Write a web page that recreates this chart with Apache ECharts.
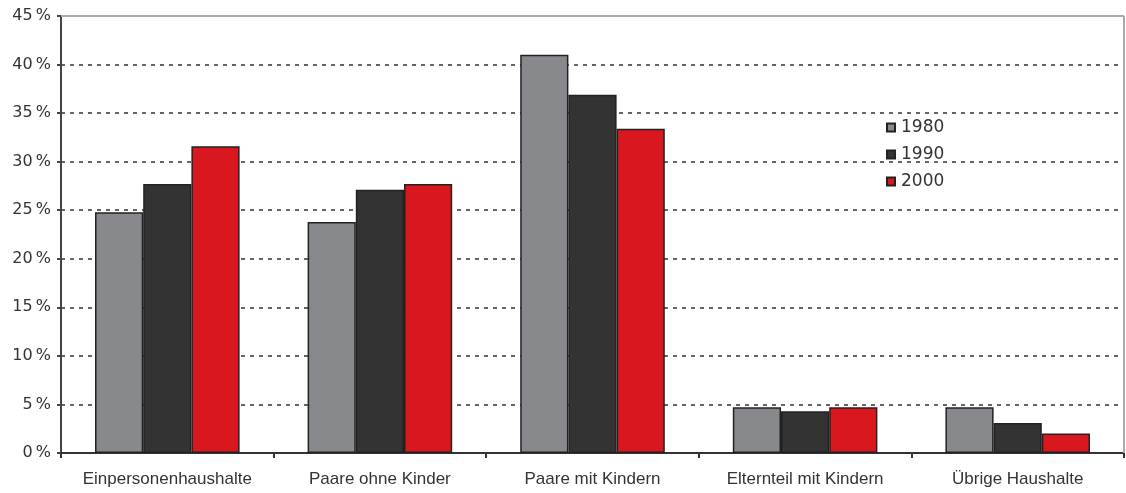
<!DOCTYPE html>
<html><head><meta charset="utf-8">
<script src="https://cdn.jsdelivr.net/npm/echarts@6/dist/echarts.min.js"></script>
<style>html,body{margin:0;padding:0;background:#fff}#c{width:1126px;height:493px}</style>
</head><body><div id="c"></div>
<script>
const categories = ['Einpersonenhaushalte','Paare ohne Kinder','Paare mit Kindern','Elternteil mit Kindern','Übrige Haushalte'];
const years = ['1980','1990','2000'];
const v1980 = [24.8, 23.8, 41.0, 4.7, 4.7];
const v1990 = [27.7, 27.1, 36.9, 4.3, 3.1];
const v2000 = [31.6, 27.7, 33.4, 4.7, 2.0];
const colors = ['#88898d','#333333','#d9171e'];
const values = [v1980, v1990, v2000];

const chart = echarts.init(document.getElementById('c'));
chart.setOption({
  animation:false,
  textStyle:{fontFamily:'Liberation Sans, Arial, sans-serif'},
  grid:{left:61,right:2,top:16,bottom:40},
  legend:{
    orient:'vertical', left:881, top:114, itemWidth:8, itemHeight:8, itemGap:10,
    icon:'rect',
    textStyle:{fontSize:17,color:'#333',fontFamily:'DejaVu Sans',padding:[0,0,0,1]},
    data:years
  },
  xAxis:{
    type:'category', data:categories,
    axisLine:{lineStyle:{color:'#333',width:2}},
    axisTick:{show:true,length:5,lineStyle:{color:'#333',width:2}},
    axisLabel:{fontSize:17,color:'#333',margin:18,interval:0,hideOverlap:false}
  },
  yAxis:[{
    type:'value', min:0, max:45, interval:5,
    axisLine:{show:true,lineStyle:{color:'#444',width:2}},
    axisTick:{show:true,length:4,lineStyle:{color:'#444',width:2}},
    axisLabel:{fontSize:16,color:'#333',margin:10,fontFamily:'DejaVu Sans',formatter:v=>v+'\u2009%'},
    splitLine:{show:true,lineStyle:{color:'#333',type:[4,5],width:1.5}}
  }],
  graphic:[
    {type:'line',shape:{x1:61,y1:16,x2:1124,y2:16},style:{stroke:'#aaa',lineWidth:2},z:10},
    {type:'line',shape:{x1:1124,y1:16,x2:1124,y2:453},style:{stroke:'#aaa',lineWidth:2},z:10}
  ],
  series: years.map((y,i)=>({
    name:y, type:'bar', data:values[i],
    barGap:'0%', barCategoryGap:'32%',
    itemStyle:{color:colors[i],borderColor:'#222',borderWidth:1.5}
  }))
});
</script></body></html>
